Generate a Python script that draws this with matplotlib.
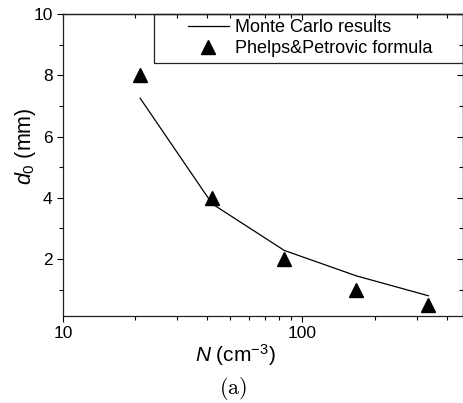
import numpy as np
import matplotlib
matplotlib.use('Agg')
import matplotlib.pyplot as plt
from matplotlib.ticker import FixedLocator, NullFormatter, FuncFormatter
from matplotlib.patches import Rectangle

plt.rcParams['font.family'] = 'Liberation Sans'
plt.rcParams['mathtext.fontset'] = 'custom'
plt.rcParams['mathtext.rm'] = 'Liberation Sans'
plt.rcParams['mathtext.it'] = 'Liberation Sans:italic'

# density N (cm^-3)
density = [21, 42, 84, 168, 336]
# Monte Carlo d0 (mm)
mc_d0 = [7.25, 3.8, 2.28, 1.45, 0.8]
# Phelps & Petrovic formula d0 (mm)
pp_d0 = [8, 4, 2, 1, 0.5]

W, H = 463, 403
fig = plt.figure(figsize=(W / 100, H / 100), dpi=100)
ax = fig.add_axes([63 / W, 1 - 316 / H, 399.5 / W, 302 / H])

line, = ax.plot(density, mc_d0, '-', color='black', lw=0.9)
tri, = ax.plot(density, pp_d0, '^', color='black', ms=10.5, ls='none')

ax.set_xscale('log')
ax.set_xlim(10, 466)
ax.set_ylim(0.14, 10)

ax.xaxis.set_major_formatter(FuncFormatter(lambda v, p: '%d' % v))
ax.xaxis.set_minor_formatter(NullFormatter())
ax.yaxis.set_major_locator(FixedLocator([2, 4, 6, 8, 10]))
ax.yaxis.set_minor_locator(FixedLocator([1, 3, 5, 7, 9]))
ax.tick_params(which='major', direction='out', length=4.5, width=0.8, labelsize=12.5, pad=3)
ax.tick_params(which='minor', direction='out', length=3, width=0.8)

# mirrored ticks pointing inward on top and right
top = ax.secondary_xaxis('top')
top.tick_params(which='both', direction='in', labeltop=False)
top.tick_params(which='major', length=4.5, width=0.8)
top.tick_params(which='minor', length=3, width=0.8)
top.xaxis.set_minor_formatter(NullFormatter())
top.xaxis.set_major_formatter(NullFormatter())
right = ax.secondary_yaxis('right')
right.yaxis.set_major_locator(FixedLocator([2, 4, 6, 8, 10]))
right.yaxis.set_minor_locator(FixedLocator([1, 3, 5, 7, 9]))
right.tick_params(which='both', direction='in', labelright=False)
right.tick_params(which='major', length=4.5, width=0.8)
right.tick_params(which='minor', length=3, width=0.8)

for s in list(ax.spines.values()) + [top.spines['top'], right.spines['right']]:
    s.set_linewidth(0.9)
    s.set_color('#222222')

ax.set_xlabel(r'$N$ (cm$^{-3}$)', fontsize=15)
ax.xaxis.set_label_coords((235 - 63) / 399.5, -0.085)
ax.set_ylabel(r'$d_0$ (mm)', fontsize=15.5)
ax.yaxis.set_label_coords((38 - 63) / 399.5, (316 - 146) / 302)

# legend frame and entries
fig.patches.append(Rectangle((154 / W, 1 - 63 / H), (W - 154) / W, 49 / H,
                             transform=fig.transFigure, fill=False,
                             edgecolor='#222222', lw=0.9))
fig.legend([line, tri], ['Monte Carlo results', 'Phelps&Petrovic formula'],
           loc='upper left', bbox_to_anchor=(188 / W, 1 - 19.5 / H),
           frameon=False, borderpad=0, borderaxespad=0, fontsize=13,
           handlelength=2.25, handletextpad=0.36, labelspacing=0.22,
           numpoints=1)

fig.text(233 / W, 1 - 388 / H, r'$\mathrm{(a)}$', ha='center', va='center',
         fontsize=16, math_fontfamily='cm')

plt.savefig('out.png', dpi=100)
